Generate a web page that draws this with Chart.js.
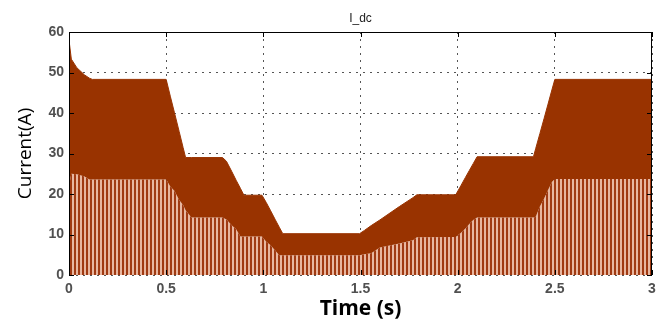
<!DOCTYPE html>
<html>
<head>
<meta charset="utf-8">
<script src="https://cdn.jsdelivr.net/npm/chart.js@4.4.1/dist/chart.umd.min.js"></script>
<style>
  html, body { margin: 0; background: #fff; }
  #wrap { width: 664px; height: 322px; }
</style>
</head>
<body>
<div id="wrap"><canvas id="idcChart"></canvas></div>
<script>
// time samples (s) shared by both envelopes of I_dc
const timeS = [0, 0.012, 0.04, 0.08, 0.105, 0.12, 0.5, 0.522, 0.542, 0.567, 0.587, 0.6, 0.63,
  0.79, 0.81, 0.837, 0.86, 0.882, 0.9, 0.993, 1.015, 1.036, 1.062, 1.082, 1.1, 1.495, 1.52,
  1.555, 1.6, 1.7, 1.77, 1.79, 1.99, 2.016, 2.04, 2.06, 2.08, 2.1, 2.39, 2.402, 2.423, 2.445,
  2.465, 2.486, 2.5, 3.0];
// peak of the ripple (A)
const upperA = [58, 53.3, 51.2, 49.4, 48.6, 48.3, 48.3, 44.0, 40.2, 35.4, 31.5, 29.0, 29.0,
  29.0, 28.1, 25.6, 23.4, 21.4, 19.7, 19.7, 17.9, 16.0, 13.6, 11.8, 10.2, 10.2, 11.0,
  12.2, 13.6, 16.9, 19.1, 19.8, 19.8, 22.0, 24.1, 25.8, 27.5, 29.2, 29.2, 31.3, 34.9, 38.7,
  42.2, 45.9, 48.3, 48.3];
// lower edge of the solid band (A)
const lowerA = [22, 25.0, 24.9, 24.3, 23.6, 23.6, 23.6, 21.8, 20.8, 18.5, 17.3, 16.0, 14.2,
  14.2, 13.7, 12.3, 11.3, 9.5, 9.5, 9.5, 8.2, 7.4, 6.0, 4.9, 4.9, 4.9, 5.1,
  5.4, 6.8, 7.8, 8.6, 9.3, 9.4, 10.4, 11.5, 12.6, 13.6, 14.2, 14.2, 14.4, 16.9, 18.9,
  21.0, 23.0, 23.7, 23.7];
const xTicks = [0, 0.5, 1, 1.5, 2, 2.5, 3];
const xLabels = ['0', '0.5', '1', '1.5', '2', '2.5', '3'];
const yTicks = [0, 10, 20, 30, 40, 50, 60];

const dark = '#993300';

// vertical stripes for the region under the ripple
function stripePattern() {
  const c = document.createElement('canvas');
  c.width = 4; c.height = 4;
  const g = c.getContext('2d');
  g.fillStyle = '#e8b7a0';
  g.fillRect(0, 0, 4, 4);
  g.fillStyle = '#a03a12';
  g.fillRect(2, 0, 2, 4);
  return g.createPattern(c, 'repeat');
}

const frame = {
  id: 'frame',
  afterDatasetsDraw(chart) {
    const { ctx, chartArea: a, scales: { x, y } } = chart;
    ctx.save();
    ctx.strokeStyle = '#000';
    ctx.lineWidth = 1;
    ctx.beginPath();
    ctx.moveTo(a.left + 0.5, a.bottom);
    ctx.lineTo(a.left + 0.5, a.top + 0.5);
    ctx.lineTo(a.right - 0.5, a.top + 0.5);
    ctx.lineTo(a.right - 0.5, a.bottom);
    // inward ticks
    xTicks.forEach(v => {
      const px = Math.round(x.getPixelForValue(v)) + 0.5;
      ctx.moveTo(px, a.bottom); ctx.lineTo(px, a.bottom - 5);
      ctx.moveTo(px, a.top); ctx.lineTo(px, a.top + 5);
    });
    yTicks.forEach(v => {
      const py = Math.round(y.getPixelForValue(v)) + 0.5;
      ctx.moveTo(a.left, py); ctx.lineTo(a.left + 5, py);
      ctx.moveTo(a.right, py); ctx.lineTo(a.right - 5, py);
    });
    ctx.stroke();
    ctx.fillStyle = '#222';
    ctx.font = '12px "Liberation Sans", Arial, sans-serif';
    ctx.textAlign = 'center';
    ctx.textBaseline = 'middle';
    ctx.fillText('I_dc', (a.left + a.right) / 2, 19);
    ctx.restore();
  }
};

new Chart(document.getElementById('idcChart'), {
  type: 'line',
  data: {
    datasets: [
      {
        label: 'upper',
        data: timeS.map((t, i) => ({ x: t, y: upperA[i] })),
        borderColor: dark, backgroundColor: dark, borderWidth: 1,
        pointRadius: 0, fill: '+1', tension: 0
      },
      {
        label: 'lower',
        data: timeS.map((t, i) => ({ x: t, y: lowerA[i] })),
        borderColor: 'rgba(0,0,0,0)', borderWidth: 0,
        backgroundColor: stripePattern(),
        pointRadius: 0, fill: 'origin', tension: 0
      }
    ]
  },
  options: {
    responsive: true, maintainAspectRatio: false, animation: false,
    layout: { padding: { top: 32, right: 12, left: 0, bottom: 0 } },
    plugins: { legend: { display: false }, tooltip: { enabled: false } },
    scales: {
      x: {
        type: 'linear', min: 0, max: 3,
        afterBuildTicks: s => { s.ticks = xTicks.map(v => ({ value: v })); },
        afterFit: s => { s.height = 47; },
        grid: { color: '#555', lineWidth: 1, drawTicks: false },
        border: { display: false, dash: [2, 5] },
        ticks: { color: '#505050', padding: 6, maxRotation: 0,
          callback: (v, i) => xLabels[i],
          font: { family: '"Liberation Sans", Arial', size: 14, weight: 'bold' } },
        title: { display: true, text: 'Time (s)', color: '#000', padding: { top: 0, bottom: 0 },
          font: { family: '"Open Sans", sans-serif', size: 21, weight: 'bold' } }
      },
      y: {
        min: 0, max: 60,
        afterBuildTicks: s => { s.ticks = yTicks.map(v => ({ value: v })); },
        afterFit: s => { s.width = 69; },
        grid: { color: '#555', lineWidth: 1, drawTicks: false },
        border: { display: false, dash: [2, 5] },
        ticks: { color: '#505050', padding: 5, font: { family: '"Liberation Sans", Arial', size: 14, weight: 'bold' } },
        title: { display: true, text: 'Current(A)', color: '#000', padding: { top: 14, bottom: 0 },
          font: { family: '"Open Sans", sans-serif', size: 19 } }
      }
    }
  },
  plugins: [frame]
});
</script>
</body>
</html>
